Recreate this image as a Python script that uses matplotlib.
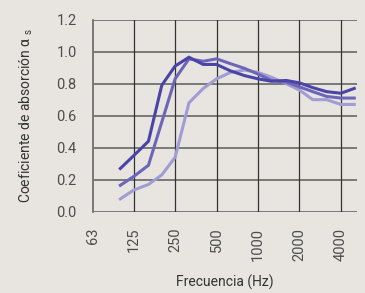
import matplotlib
matplotlib.use("Agg")
import matplotlib.pyplot as plt

freqs = [100, 125, 160, 200, 250, 315, 400, 500, 630, 800, 1000, 1250, 1600, 2000, 2500, 3150, 4000, 5000]
dark = [0.27, 0.35, 0.44, 0.79, 0.91, 0.965, 0.92, 0.92, 0.88, 0.85, 0.83, 0.815, 0.82, 0.805, 0.775, 0.75, 0.74, 0.77]
medium = [0.165, 0.22, 0.29, 0.56, 0.83, 0.955, 0.94, 0.955, 0.925, 0.895, 0.86, 0.82, 0.81, 0.78, 0.75, 0.72, 0.71, 0.71]
light = [0.08, 0.135, 0.17, 0.23, 0.34, 0.68, 0.77, 0.83, 0.87, 0.885, 0.87, 0.84, 0.80, 0.76, 0.70, 0.70, 0.67, 0.67]
xticks = [63, 125, 250, 500, 1000, 2000, 4000]
xticklabels = ["63", "125", "250", "500", "1000", "2000", "4000"]
yticks = [0.0, 0.2, 0.4, 0.6, 0.8, 1.0, 1.2]

bg = "#e8e5e0"
plt.rcParams['font.family'] = ['Roboto', 'DejaVu Sans']

fig = plt.figure(figsize=(3.65, 2.93), dpi=100, facecolor=bg)
ax = fig.add_axes([0.254, 0.2775, 0.723, 0.6555], facecolor=bg)

ax.plot(freqs, light, color="#a09cd4", lw=2.2, solid_joinstyle='miter', zorder=3)
ax.plot(freqs, medium, color="#6c66b8", lw=2.2, solid_joinstyle='miter', zorder=4)
ax.plot(freqs, dark, color="#4a44a8", lw=2.2, solid_joinstyle='miter', zorder=5)

ax.set_xscale('log')
ax.set_xlim(63, 5200)
ax.set_ylim(0, 1.2)
ax.set_xticks(xticks)
ax.set_xticklabels(xticklabels, rotation=90)
ax.minorticks_off()
ax.set_yticks(yticks)
ax.set_yticklabels([f"{v:.1f}" for v in yticks])

for v in yticks:
    ax.axhline(v, color="#707070", lw=1.3, zorder=1)
for v in xticks[1:]:
    ax.axvline(v, color="#333333", lw=0.9, zorder=1)

for s in ['top', 'right', 'bottom']:
    ax.spines[s].set_visible(False)
ax.spines['left'].set_color("#707070")
ax.spines['left'].set_linewidth(1.3)

ax.tick_params(length=0, pad=11.5, labelsize=10.5, colors="#4d4d4d")

ax.set_xlabel("Frecuencia (Hz)", fontsize=10, color="#333333")
ax.set_ylabel("Coeficiente de absorción α $_{\\mathregular{s}}$", fontsize=10, color="#333333")
ax.xaxis.set_label_coords(0.5, -0.33)
ax.yaxis.set_label_coords(-0.22, 0.5)

fig.savefig("out.png", dpi=100, facecolor=bg)
